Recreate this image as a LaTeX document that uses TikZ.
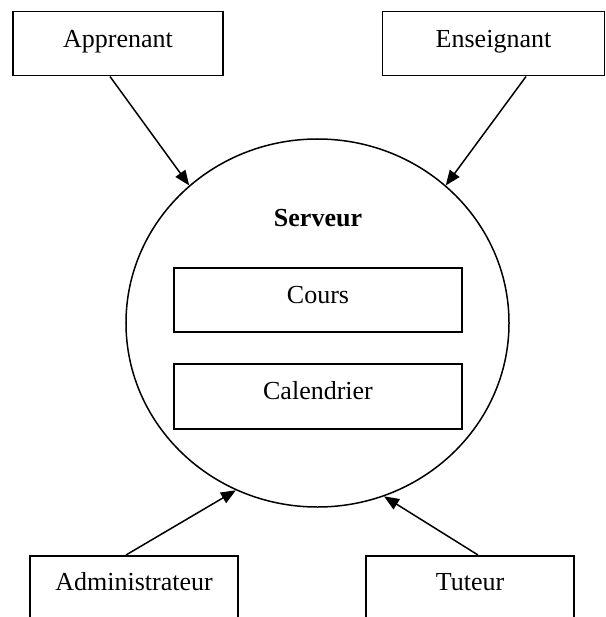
\documentclass[tikz,border=0pt]{standalone}
\usepackage{fontspec}
\setmainfont{Liberation Serif}
\usetikzlibrary{shapes.geometric,arrows.meta}
\tikzset{
  box/.style={draw, line width=1.5bp, inner xsep=0pt, inner ysep=0pt,
    text height=36bp, text depth=28bp, anchor=north},
  lowbox/.style={draw, line width=1.5bp, inner xsep=0pt, inner ysep=0pt,
    text height=35bp, text depth=45bp, anchor=north},
  arr/.style={line width=1.5bp, -{Triangle[length=15bp,width=12bp]}},
}
\begin{document}
\begin{tikzpicture}[x=1bp,y=-1bp,font=\fontsize{26bp}{30bp}\selectfont]
\useasboundingbox (0,0) rectangle (606,617);
\clip (0,0) rectangle (606,617);
\fill[white] (0,0) rectangle (606,617);

\node[box, minimum width=210bp] (app) at (118,11) {Apprenant};
\node[box, minimum width=222bp] (ens) at (493.5,11) {Enseignant};

\node[draw, ellipse, line width=1.5bp, inner sep=0pt,
      minimum width=383bp, minimum height=368bp] (srv) at (317.5,323) {};
\node[anchor=base, inner sep=0pt, font=\fontsize{26bp}{30bp}\selectfont\bfseries] (srvlbl) at (318,226) {Serveur};

\node[box, minimum width=288bp] (cours) at (318,267) {Cours};
\node[box, minimum width=288bp, text depth=29bp] (cal) at (318,363) {Calendrier};

\node[lowbox, minimum width=208bp] (adm) at (134,555) {Administrateur};
\node[lowbox, minimum width=208bp] (tut) at (470,555) {Tuteur};

\draw[arr] ([xshift=-8bp]app.south) -- (srv.133);
\draw[arr] ([xshift=32.5bp]ens.south) -- (srv.47);
\draw[arr] ([xshift=-8bp]adm.north) -- (srv.244.5);
\draw[arr] ([xshift=8bp]tut.north) -- (srv.291.2);
\end{tikzpicture}
\end{document}
